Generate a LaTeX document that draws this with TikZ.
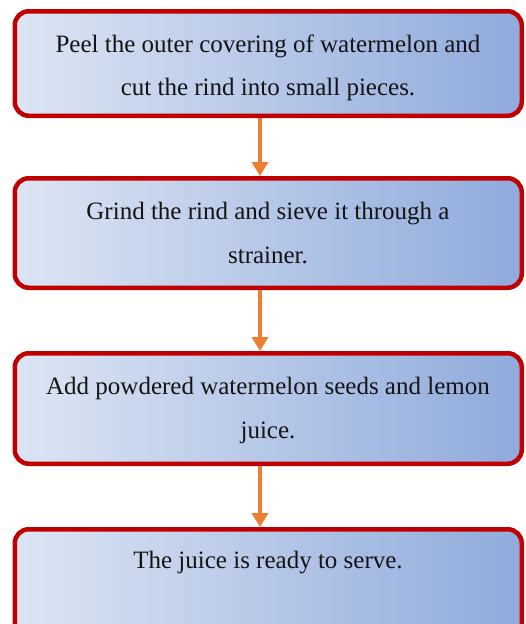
\documentclass[tikz,border=0pt]{standalone}
\usepackage{fontspec}
\setmainfont{Liberation Serif}
\usetikzlibrary{arrows.meta}
\definecolor{boxred}{RGB}{192,0,0}
\definecolor{gradL}{RGB}{221,229,243}
\definecolor{gradR}{RGB}{143,170,220}
\definecolor{arrorange}{RGB}{237,125,49}
\tikzset{
  stepbox/.style={rectangle, rounded corners=14pt, draw=boxred, line width=4.5pt,
    left color=gradL, right color=gradR, minimum width=507pt, inner sep=0pt},
  steptext/.style={anchor=base, inner sep=0pt, font=\fontsize{25}{43}\selectfont, text=black!92},
  flowarrow/.style={draw=arrorange, line width=4pt, -{Triangle[width=16pt,length=14pt]}}
}
\begin{document}
\begin{tikzpicture}[x=1pt,y=-1pt]
\useasboundingbox (0,0) rectangle (525,624);
\clip (0,0) rectangle (525,624);
\node[stepbox, minimum height=104.5pt] (b1) at (268.25,63.5) {};
\node[stepbox, minimum height=109.5pt] (b2) at (268.25,233) {};
\node[stepbox, minimum height=110.5pt] (b3) at (268.25,408.5) {};
\node[stepbox, minimum height=110.5pt] (b4) at (268.25,584.5) {};
\node[steptext] (t1a) at (268,52) {Peel the outer covering of watermelon and};
\node[steptext] (t1b) at (268,95) {cut the rind into small pieces.};
\node[steptext] (t2a) at (268,219) {Grind the rind and sieve it through a};
\node[steptext] (t2b) at (268,263) {strainer.};
\node[steptext] (t3a) at (268,394) {Add powdered watermelon seeds and lemon};
\node[steptext] (t3b) at (268,438) {juice.};
\node[steptext] (t4a) at (268,568) {The juice is ready to serve.};
\coordinate (ax) at (260,0);
\draw[flowarrow] (b1.south -| ax) -- (b2.north -| ax);
\draw[flowarrow] (b2.south -| ax) -- (b3.north -| ax);
\draw[flowarrow] (b3.south -| ax) -- (b4.north -| ax);
\end{tikzpicture}
\end{document}
